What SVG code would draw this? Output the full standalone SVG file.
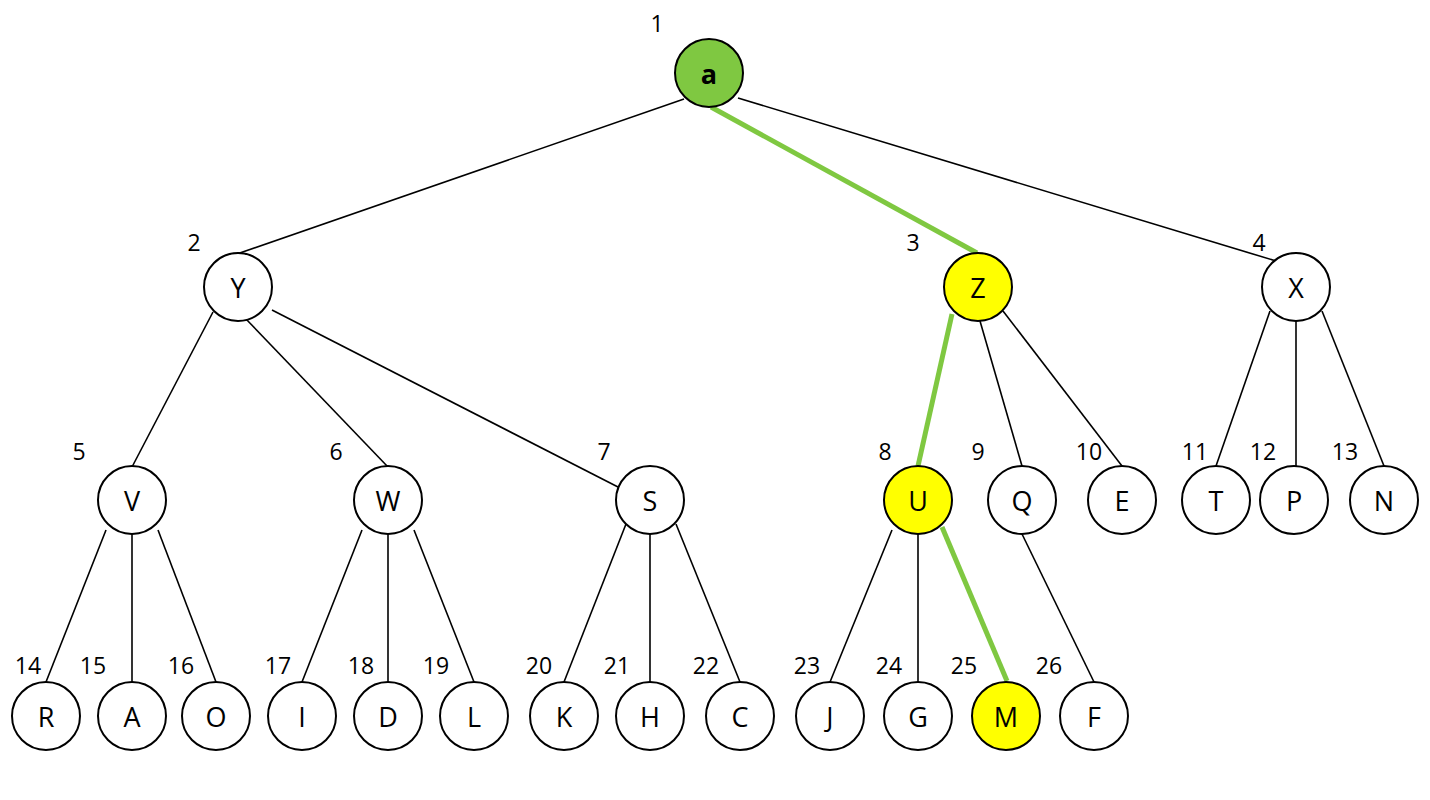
<svg xmlns="http://www.w3.org/2000/svg" width="1430" height="800" viewBox="0 0 1430 800">
<style>
.n circle{fill:#fff;stroke:#000;stroke-width:2}
.n text{font-family:"Open Sans","Liberation Sans",sans-serif;font-size:27px;text-anchor:middle;dominant-baseline:central;fill:#000}
.lbl{font-family:"Open Sans","Liberation Sans",sans-serif;font-size:23px;text-anchor:middle;dominant-baseline:central;fill:#000}
.e{stroke:#000;stroke-width:1.6;fill:none}
.g{stroke:#7fc841;stroke-width:5;fill:none}
</style>
<rect width="1430" height="800" fill="#fff"/>
<g id="connectors">
<line class="e" x1="684" y1="99" x2="234" y2="255"/>
<line class="e" x1="738" y1="98" x2="1276" y2="261"/>
<line class="e" x1="213" y1="312" x2="132" y2="467"/>
<line class="e" x1="245" y1="318" x2="388" y2="467"/>
<line class="e" x1="272" y1="310" x2="618" y2="487"/>
<line class="e" x1="980" y1="321" x2="1022" y2="466"/>
<line class="e" x1="1003" y1="311" x2="1122" y2="466"/>
<line class="e" x1="1270" y1="311" x2="1216" y2="466"/>
<line class="e" x1="1296" y1="321" x2="1296" y2="466"/>
<line class="e" x1="1322" y1="311" x2="1384" y2="466"/>
<line class="e" x1="106" y1="530" x2="46" y2="682"/>
<line class="e" x1="132" y1="534" x2="132" y2="682"/>
<line class="e" x1="158" y1="530" x2="216" y2="682"/>
<line class="e" x1="362" y1="530" x2="302" y2="682"/>
<line class="e" x1="388" y1="534" x2="388" y2="682"/>
<line class="e" x1="414" y1="530" x2="474" y2="682"/>
<line class="e" x1="626" y1="524" x2="564" y2="682"/>
<line class="e" x1="650" y1="534" x2="650" y2="682"/>
<line class="e" x1="676" y1="524" x2="740" y2="682"/>
<line class="e" x1="892" y1="530" x2="830" y2="682"/>
<line class="e" x1="918" y1="534" x2="918" y2="682"/>
<line class="e" x1="1022" y1="534" x2="1094" y2="682"/>
<line class="g" x1="711" y1="107" x2="977" y2="253"/>
<line class="g" x1="952" y1="314" x2="918" y2="466"/>
<line class="g" x1="942" y1="527" x2="1007" y2="681"/>
</g>
<g id="node-a" class="n"><circle cx="709" cy="73" r="34" style="fill:#7fc841"/><text x="709" y="73" style="font-weight:bold">a</text></g>
<g id="node-Y" class="n"><circle cx="238" cy="287" r="34"/><text x="238" y="287">Y</text></g>
<g id="node-Z" class="n"><circle cx="978" cy="287" r="34" style="fill:#ffff00"/><text x="978" y="287">Z</text></g>
<g id="node-X" class="n"><circle cx="1296" cy="287" r="34"/><text x="1296" y="287">X</text></g>
<g id="node-V" class="n"><circle cx="132" cy="500" r="34"/><text x="132" y="500">V</text></g>
<g id="node-W" class="n"><circle cx="388" cy="500" r="34"/><text x="388" y="500">W</text></g>
<g id="node-S" class="n"><circle cx="650" cy="500" r="34"/><text x="650" y="500">S</text></g>
<g id="node-U" class="n"><circle cx="918" cy="500" r="34" style="fill:#ffff00"/><text x="918" y="500">U</text></g>
<g id="node-Q" class="n"><circle cx="1022" cy="500" r="34"/><text x="1022" y="500">Q</text></g>
<g id="node-E" class="n"><circle cx="1122" cy="500" r="34"/><text x="1122" y="500">E</text></g>
<g id="node-T" class="n"><circle cx="1216" cy="500" r="34"/><text x="1216" y="500">T</text></g>
<g id="node-P" class="n"><circle cx="1294" cy="500" r="34"/><text x="1294" y="500">P</text></g>
<g id="node-N" class="n"><circle cx="1384" cy="500" r="34"/><text x="1384" y="500">N</text></g>
<g id="node-R" class="n"><circle cx="46" cy="716" r="34"/><text x="46" y="716">R</text></g>
<g id="node-A" class="n"><circle cx="132" cy="716" r="34"/><text x="132" y="716">A</text></g>
<g id="node-O" class="n"><circle cx="216" cy="716" r="34"/><text x="216" y="716">O</text></g>
<g id="node-I" class="n"><circle cx="302" cy="716" r="34"/><text x="302" y="716">I</text></g>
<g id="node-D" class="n"><circle cx="388" cy="716" r="34"/><text x="388" y="716">D</text></g>
<g id="node-L" class="n"><circle cx="474" cy="716" r="34"/><text x="474" y="716">L</text></g>
<g id="node-K" class="n"><circle cx="564" cy="716" r="34"/><text x="564" y="716">K</text></g>
<g id="node-H" class="n"><circle cx="650" cy="716" r="34"/><text x="650" y="716">H</text></g>
<g id="node-C" class="n"><circle cx="740" cy="716" r="34"/><text x="740" y="716">C</text></g>
<g id="node-J" class="n"><circle cx="830" cy="716" r="34"/><text x="830" y="716">J</text></g>
<g id="node-G" class="n"><circle cx="918" cy="716" r="34"/><text x="918" y="716">G</text></g>
<g id="node-M" class="n"><circle cx="1006" cy="716" r="34" style="fill:#ffff00"/><text x="1006" y="716">M</text></g>
<g id="node-F" class="n"><circle cx="1094" cy="716" r="34"/><text x="1094" y="716">F</text></g>
<g id="labels">
<text class="lbl" x="657" y="23">1</text>
<text class="lbl" x="194" y="242">2</text>
<text class="lbl" x="913" y="242">3</text>
<text class="lbl" x="1259" y="242">4</text>
<text class="lbl" x="79" y="451">5</text>
<text class="lbl" x="336" y="451">6</text>
<text class="lbl" x="604" y="451">7</text>
<text class="lbl" x="885" y="451">8</text>
<text class="lbl" x="978" y="451">9</text>
<text class="lbl" x="1089" y="451">10</text>
<text class="lbl" x="1195" y="451">11</text>
<text class="lbl" x="1263" y="451">12</text>
<text class="lbl" x="1345" y="451">13</text>
<text class="lbl" x="28" y="665">14</text>
<text class="lbl" x="93" y="665">15</text>
<text class="lbl" x="181" y="665">16</text>
<text class="lbl" x="278" y="665">17</text>
<text class="lbl" x="361" y="665">18</text>
<text class="lbl" x="436" y="665">19</text>
<text class="lbl" x="539" y="665">20</text>
<text class="lbl" x="617" y="665">21</text>
<text class="lbl" x="706" y="665">22</text>
<text class="lbl" x="807" y="665">23</text>
<text class="lbl" x="889" y="665">24</text>
<text class="lbl" x="964" y="665">25</text>
<text class="lbl" x="1049" y="665">26</text>
</g>
</svg>
